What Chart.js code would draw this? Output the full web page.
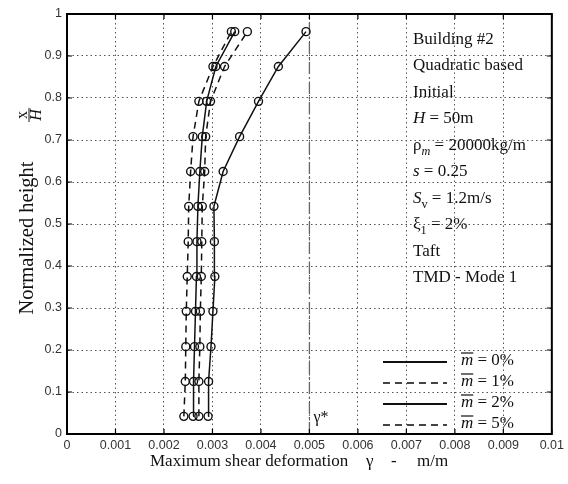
<!DOCTYPE html>
<html>
<head>
<meta charset="utf-8">
<script src="https://cdn.jsdelivr.net/npm/chart.js@4"></script>
<style>
  html, body { margin: 0; padding: 0; background: #fff; }
  canvas { display: block; }
</style>
</head>
<body>
<canvas id="shearChart" width="568" height="484"></canvas>
<script>
// normalized height x/H of each storey (12 storeys)
const heights = [0.042, 0.125, 0.208, 0.292, 0.375, 0.458, 0.542, 0.625, 0.708, 0.792, 0.875, 0.958];

// maximum shear deformation, one list per mass ratio
const gammaM0 = [0.00291, 0.00292, 0.00297, 0.00301, 0.00305, 0.00304, 0.00303, 0.00322, 0.00356, 0.00395, 0.00436, 0.00493];
const gammaM1 = [0.00272, 0.00272, 0.00274, 0.00275, 0.00277, 0.00278, 0.00279, 0.00284, 0.00286, 0.00296, 0.00325, 0.00372];
const gammaM2 = [0.00260, 0.00261, 0.00263, 0.00265, 0.00267, 0.00268, 0.00270, 0.00274, 0.00279, 0.00288, 0.00307, 0.00346];
const gammaM5 = [0.00241, 0.00244, 0.00245, 0.00246, 0.00248, 0.00250, 0.00251, 0.00255, 0.00260, 0.00272, 0.00301, 0.00339];

const legendLabels = ['0%', '1%', '2%', '5%'];
const gammaStar = 0.005;

const serif = '"Liberation Serif", "DejaVu Serif", serif';
const sans = '"Liberation Sans", Arial, sans-serif';

function toPoints(xs) {
    return xs.map((g, i) => ({ x: g, y: heights[i] }));
}

function curve(label, xs, dashed) {
    return {
        label: label,
        data: toPoints(xs),
        showLine: true,
        borderColor: '#111',
        borderWidth: 1.5,
        borderDash: dashed ? [7, 5] : [],
        pointRadius: 4,
        pointBorderWidth: 1.4,
        pointBorderColor: '#111',
        pointBackgroundColor: 'rgba(0,0,0,0)',
        fill: false
    };
}

// text with italic parts and subscripts
function drawRich(ctx, x, y, parts, size) {
    parts.forEach(p => {
        const s = p.sub ? size * 0.72 : size;
        ctx.font = (p.it ? 'italic ' : '') + s + 'px ' + serif;
        ctx.fillText(p.t, x, p.sub ? y + size * 0.3 : y);
        x += ctx.measureText(p.t).width;
    });
    return x;
}

const infoLines = [
    [{ t: 'Building #2' }],
    [{ t: 'Quadratic based' }],
    [{ t: 'Initial' }],
    [{ t: 'H', it: true }, { t: ' = 50m' }],
    [{ t: 'ρ' }, { t: 'm', it: true, sub: true }, { t: ' = 20000kg/m' }],
    [{ t: 's', it: true }, { t: ' = 0.25' }],
    [{ t: 'S', it: true }, { t: 'v', sub: true }, { t: ' = 1.2m/s' }],
    [{ t: 'ξ' }, { t: '1', sub: true }, { t: ' = 2%' }],
    [{ t: 'Taft' }],
    [{ t: 'TMD - Mode 1' }]
];

const decorations = {
    id: 'decorations',
    afterDraw(chart) {
        const ctx = chart.ctx;
        const a = chart.chartArea;
        const xs = chart.scales.x, ys = chart.scales.y;
        ctx.save();

        // box
        ctx.strokeStyle = '#000';
        ctx.lineWidth = 2;
        ctx.strokeRect(a.left, a.top, a.right - a.left, a.bottom - a.top);

        // inward ticks on all four sides
        ctx.lineWidth = 1.2;
        ctx.beginPath();
        xs.ticks.forEach(t => {
            const px = xs.getPixelForValue(t.value);
            ctx.moveTo(px, a.bottom); ctx.lineTo(px, a.bottom - 5);
            ctx.moveTo(px, a.top); ctx.lineTo(px, a.top + 5);
        });
        ys.ticks.forEach(t => {
            const py = ys.getPixelForValue(t.value);
            ctx.moveTo(a.left, py); ctx.lineTo(a.left + 5, py);
            ctx.moveTo(a.right, py); ctx.lineTo(a.right - 5, py);
        });
        ctx.stroke();

        ctx.fillStyle = '#111';
        ctx.textAlign = 'left';
        ctx.textBaseline = 'alphabetic';

        // info block
        infoLines.forEach((line, i) => {
            drawRich(ctx, 413, 43.5 + i * 26.5, line, 17);
        });

        // legend
        const styles = chart.data.datasets.slice(0, 4);
        styles.forEach((ds, i) => {
            const ly = 362 + i * 21;
            ctx.strokeStyle = ds.borderDash.length ? '#444' : '#111';
            ctx.lineWidth = 2.2;
            ctx.setLineDash(ds.borderDash);
            ctx.beginPath();
            ctx.moveTo(383, ly); ctx.lineTo(447, ly);
            ctx.stroke();
            ctx.setLineDash([]);
            ctx.strokeStyle = '#111';
            ctx.font = 'italic 17px ' + serif;
            const mx = 461, by = ly + 3;
            ctx.fillText('m', mx, by);
            const mw = ctx.measureText('m').width;
            ctx.lineWidth = 1.2;
            ctx.beginPath();
            ctx.moveTo(mx, by - 12); ctx.lineTo(mx + mw, by - 12);
            ctx.stroke();
            ctx.font = '17px ' + serif;
            ctx.fillText(' = ' + legendLabels[i], mx + mw, by);
        });

        // gamma* label
        ctx.font = '16px ' + serif;
        ctx.fillText('γ*', xs.getPixelForValue(gammaStar) + 4, 422);

        // x axis title
        ctx.font = '17px ' + serif;
        ctx.fillText('Maximum shear deformation', 150, 466);
        ctx.fillText('γ', 366, 466);
        ctx.fillText('-', 391, 466);
        ctx.fillText('m/m', 417, 466);

        // y axis title
        ctx.save();
        ctx.translate(33, 238);
        ctx.rotate(-Math.PI / 2);
        ctx.textAlign = 'center';
        ctx.font = '20.5px ' + serif;
        ctx.fillText('Normalized height', 0, 0);
        ctx.restore();

        ctx.save();
        ctx.translate(29, 115);
        ctx.rotate(-Math.PI / 2);
        ctx.textAlign = 'center';
        ctx.font = '16px ' + serif;
        ctx.fillText('x', 0, -2);
        ctx.font = 'italic 16px ' + serif;
        ctx.fillText('H', 0, 12);
        ctx.lineWidth = 1;
        ctx.beginPath();
        ctx.moveTo(-7, 0); ctx.lineTo(7, 0);
        ctx.stroke();
        ctx.restore();

        ctx.restore();
    }
};

const gridStyle = { color: '#555', lineWidth: 1, drawTicks: false };
const borderStyle = { display: true, color: '#000', width: 2, dash: [1.5, 3] };

new Chart(document.getElementById('shearChart'), {
    type: 'scatter',
    data: {
        datasets: [
            curve('m = 0%', gammaM0, false),
            curve('m = 1%', gammaM1, true),
            curve('m = 2%', gammaM2, false),
            curve('m = 5%', gammaM5, true),
            {
                label: 'gamma*',
                data: [{ x: gammaStar, y: 0 }, { x: gammaStar, y: 1 }],
                showLine: true,
                borderColor: '#666',
                borderWidth: 1.3,
                borderDash: [12, 3, 2, 3],
                pointRadius: 0
            }
        ]
    },
    options: {
        responsive: false,
        animation: false,
        devicePixelRatio: 1,
        layout: { padding: { top: 14, right: 15, left: 0, bottom: 0 } },
        plugins: {
            legend: { display: false },
            tooltip: { enabled: false }
        },
        scales: {
            x: {
                type: 'linear',
                min: 0,
                max: 0.01,
                grid: gridStyle,
                border: borderStyle,
                afterFit: s => { s.height = 50; },
                ticks: {
                    stepSize: 0.001,
                    padding: 4,
                    color: '#333',
                    font: { family: sans, size: 12.5 },
                    maxRotation: 0,
                    callback: v => String(Number(v.toFixed(3)))
                }
            },
            y: {
                type: 'linear',
                min: 0,
                max: 1,
                grid: gridStyle,
                border: borderStyle,
                afterFit: s => { s.width = 67; },
                ticks: {
                    stepSize: 0.1,
                    padding: 5,
                    color: '#333',
                    font: { family: sans, size: 12.5 },
                    callback: v => String(Number(v.toFixed(1)))
                }
            }
        }
    },
    plugins: [decorations]
});
</script>
</body>
</html>
